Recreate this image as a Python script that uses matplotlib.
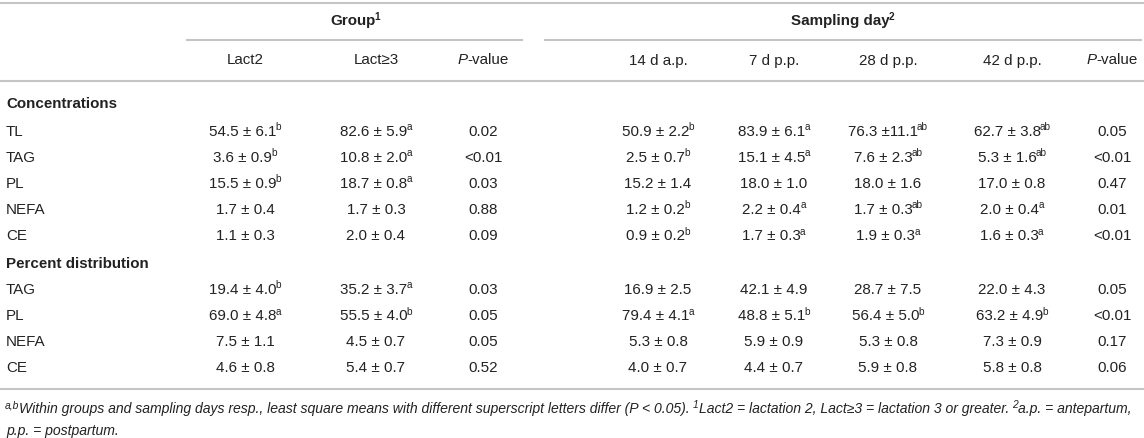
import matplotlib
matplotlib.use("Agg")
import matplotlib.pyplot as plt

plt.rcParams['font.family'] = ['Liberation Sans', 'DejaVu Sans']

# ---------------- data ----------------
row_labels = ['TL', 'TAG', 'PL', 'NEFA', 'CE', 'TAG', 'PL', 'NEFA', 'CE']
section_labels = ['Concentrations', 'Percent distribution']

lact2_mean = [54.5, 3.6, 15.5, 1.7, 1.1, 19.4, 69.0, 7.5, 4.6]
lact2_sem = [6.1, 0.9, 0.9, 0.4, 0.3, 4.0, 4.8, 1.1, 0.8]
lact2_sup = ['b', 'b', 'b', '', '', 'b', 'a', '', '']

lact3_mean = [82.6, 10.8, 18.7, 1.7, 2.0, 35.2, 55.5, 4.5, 5.4]
lact3_sem = [5.9, 2.0, 0.8, 0.3, 0.4, 3.7, 4.0, 0.7, 0.7]
lact3_sup = ['a', 'a', 'a', '', '', 'a', 'b', '', '']

group_p = ['0.02', '<0.01', '0.03', '0.88', '0.09', '0.03', '0.05', '0.05', '0.52']

d14_mean = [50.9, 2.5, 15.2, 1.2, 0.9, 16.9, 79.4, 5.3, 4.0]
d14_sem = [2.2, 0.7, 1.4, 0.2, 0.2, 2.5, 4.1, 0.8, 0.7]
d14_sup = ['b', 'b', '', 'b', 'b', '', 'a', '', '']

d7_mean = [83.9, 15.1, 18.0, 2.2, 1.7, 42.1, 48.8, 5.9, 4.4]
d7_sem = [6.1, 4.5, 1.0, 0.4, 0.3, 4.9, 5.1, 0.9, 0.7]
d7_sup = ['a', 'a', '', 'a', 'a', '', 'b', '', '']

d28_mean = [76.3, 7.6, 18.0, 1.7, 1.9, 28.7, 56.4, 5.3, 5.9]
d28_sem = [11.1, 2.3, 1.6, 0.3, 0.3, 7.5, 5.0, 0.8, 0.8]
d28_sup = ['ab', 'ab', '', 'ab', 'a', '', 'b', '', '']

d42_mean = [62.7, 5.3, 17.0, 2.0, 1.6, 22.0, 63.2, 7.3, 5.8]
d42_sem = [3.8, 1.6, 0.8, 0.4, 0.3, 4.3, 4.9, 0.9, 0.8]
d42_sup = ['ab', 'ab', '', 'a', 'a', '', 'b', '', '']

day_p = ['0.05', '<0.01', '0.47', '0.01', '<0.01', '0.05', '<0.01', '0.17', '0.06']

col_headers = ['Lact2', 'Lact≥3', 'P-value', '14 d a.p.', '7 d p.p.', '28 d p.p.', '42 d p.p.', 'P-value']

# ---------------- layout ----------------
W, H = 1144, 438
fig = plt.figure(figsize=(W / 100, H / 100), dpi=100)
ax = fig.add_axes([0, 0, 1, 1])
ax.set_xlim(0, W)
ax.set_ylim(H, 0)
ax.axis('off')
renderer = fig.canvas.get_renderer()

TXT = '#222222'
RULE = '#c4c4c4'
FS = 10.9
SUPFS = 7.2

col_x = [245, 376, 483, 658, 774, 888, 1012, 1112]


def rich(x, yb, parts, ha='center', fs=FS, color=TXT, supfs=None):
    """parts: list of (text, kind); kinds: r, i, b, sup, supi, supb."""
    if supfs is None:
        supfs = SUPFS
    objs = []
    for s, kind in parts:
        size = supfs if kind.startswith('sup') else fs
        style = 'italic' if kind in ('i', 'supi') else 'normal'
        weight = 'bold' if kind in ('b', 'supb') else 'normal'
        t = ax.text(0, yb, s, fontsize=size, fontstyle=style, fontweight=weight,
                    color=color, va='baseline', ha='left')
        bb = t.get_window_extent(renderer)
        kern = -1.0 if kind.startswith('sup') else 0.0
        objs.append((t, bb.width + kern, kind, kern))
    total = sum(o[1] for o in objs)
    cx = x - total / 2 if ha == 'center' else x
    for t, w, kind, kern in objs:
        dy = -5.5 if kind.startswith('sup') else 0
        t.set_position((cx + kern, yb + dy))
        cx += w
    return total


def rule(y, x0=0, x1=W):
    ax.plot([x0, x1], [y, y], color=RULE, lw=1.5, solid_capstyle='butt')


def cell(mean, sem, sup):
    sep = ' ±' if sem >= 10 else ' ± '
    parts = [(f'{mean:.1f}{sep}{sem:.1f}', 'r')]
    if sup:
        parts.append((sup, 'sup'))
    return parts


# rules
rule(3)
rule(40, 186, 523)
rule(40, 544, 1142)
rule(81)
rule(389)

# group headers
BO = 5.5  # baseline offset from visual centre
rich(355, 20 + BO, [('Group', 'b'), ('1', 'supb')])
rich(843, 20 + BO, [('Sampling day', 'b'), ('2', 'supb')])

# column headers
for x, h in zip(col_x, col_headers):
    if h.startswith('P-'):
        rich(x, 59 + BO, [('P', 'i'), ('-value', 'r')])
    else:
        rich(x, 59 + BO, [(h, 'r')])

# rows
sec_y = [103, 262]
row_y = [130, 156, 182, 208.5, 235, 288, 315, 341, 367]
for sy, lab in zip(sec_y, section_labels):
    rich(6, sy + BO, [(lab, 'b')], ha='left')

groups = [
    (lact2_mean, lact2_sem, lact2_sup),
    (lact3_mean, lact3_sem, lact3_sup),
    None,
    (d14_mean, d14_sem, d14_sup),
    (d7_mean, d7_sem, d7_sup),
    (d28_mean, d28_sem, d28_sup),
    (d42_mean, d42_sem, d42_sup),
    None,
]
for i, (y, lab) in enumerate(zip(row_y, row_labels)):
    rich(6, y + BO, [(lab, 'r')], ha='left')
    for j, x in enumerate(col_x):
        if j == 2:
            rich(x, y + BO, [(group_p[i], 'r')])
        elif j == 7:
            rich(x, y + BO, [(day_p[i], 'r')])
        else:
            m, s, sp = groups[j]
            rich(x, y + BO, cell(m[i], s[i], sp[i]))

# footnote
FFS = 10.1
rich(6, 408 + BO, [('a,b', 'supi'),
                   ('Within groups and sampling days resp., least square means with different superscript letters differ (P < 0.05). ', 'i'),
                   ('1', 'supi'),
                   ('Lact2 = lactation 2, Lact≥3 = lactation 3 or greater. ', 'i'),
                   ('2', 'supi'),
                   ('a.p. = antepartum,', 'i')], ha='left', fs=FFS, supfs=7.4)
rich(6, 430 + BO, [('p.p. = postpartum.', 'i')], ha='left', fs=FFS)

fig.savefig('out.png', dpi=100)
